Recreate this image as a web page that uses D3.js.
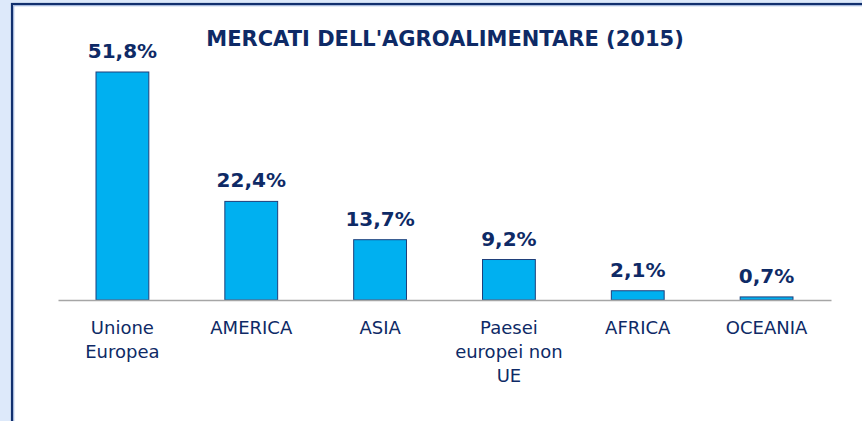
<!DOCTYPE html>
<html>
<head>
<meta charset="utf-8">
<script src="https://cdn.jsdelivr.net/npm/d3@7"></script>
<style>
  html, body { margin: 0; padding: 0; background: #dde9fa; }
  .chart { width: 862px; height: 421px; overflow: hidden; }
  text { font-family: "DejaVu Sans", Verdana, sans-serif; fill: #0e2a66; }
</style>
</head>
<body>
<div class="chart"></div>
<script>
// data
var categories = ["Unione\nEuropea", "AMERICA", "ASIA", "Paesei\neuropei non\nUE", "AFRICA", "OCEANIA"];
var values = [51.8, 22.4, 13.7, 9.2, 2.1, 0.7];
var valueLabels = ["51,8%", "22,4%", "13,7%", "9,2%", "2,1%", "0,7%"];
var title = "MERCATI DELL'AGROALIMENTARE (2015)";

var svgWidth = 862;
var svgHeight = 421;

var margin = {
  top: 72,
  right: 31,
  bottom: 121,
  left: 58
};

var width = svgWidth - margin.left - margin.right;
var height = svgHeight - margin.top - margin.bottom;

var svg = d3.select(".chart")
  .append("svg")
  .attr("width", svgWidth)
  .attr("height", svgHeight);

// white frame with dark border
svg.append("rect")
  .attr("x", 12)
  .attr("y", 4)
  .attr("width", 900)
  .attr("height", 500)
  .attr("fill", "white")
  .attr("stroke", "#12306e")
  .attr("stroke-width", 2.2);

svg.append("rect")
  .attr("x", 13.8)
  .attr("y", 5.8)
  .attr("width", 900)
  .attr("height", 500)
  .attr("fill", "none")
  .attr("stroke", "#7d9bd0")
  .attr("stroke-width", 0.8);

svg.append("text")
  .attr("x", 445)
  .attr("y", 46)
  .attr("text-anchor", "middle")
  .attr("font-size", "21px")
  .attr("font-weight", "bold")
  .text(title);

var chartGroup = svg.append("g")
  .attr("transform", `translate(${margin.left}, ${margin.top})`);

var data = categories.map((c, i) => ({ cat: c, value: values[i], label: valueLabels[i] }));

var xBandScale = d3.scaleBand()
  .domain(categories)
  .range([0, width])
  .paddingInner(0.59)
  .paddingOuter(0.295);

var yLinearScale = d3.scaleLinear()
  .domain([0, 51.8])
  .range([height, 0]);

// bars
chartGroup.selectAll(".bar")
  .data(data)
  .enter()
  .append("rect")
  .attr("class", "bar")
  .attr("x", d => xBandScale(d.cat))
  .attr("y", d => yLinearScale(d.value))
  .attr("width", xBandScale.bandwidth())
  .attr("height", d => height - yLinearScale(d.value))
  .attr("fill", "#00b0f0")
  .attr("stroke", "#1f3f7a")
  .attr("stroke-width", 1);

// value labels
chartGroup.selectAll(".valueText")
  .data(data)
  .enter()
  .append("text")
  .attr("class", "valueText")
  .attr("x", d => xBandScale(d.cat) + xBandScale.bandwidth() / 2)
  .attr("y", d => yLinearScale(d.value) - 14)
  .attr("text-anchor", "middle")
  .attr("font-size", "20px")
  .attr("font-weight", "bold")
  .text(d => d.label);

// x axis
var bottomAxis = d3.axisBottom(xBandScale).tickSize(0).tickPadding(0);

var xAxis = chartGroup.append("g")
  .attr("transform", `translate(0, ${height})`)
  .call(bottomAxis);

xAxis.select(".domain")
  .attr("stroke", "#a6a6a6")
  .attr("stroke-width", 1.5);

xAxis.selectAll(".tick text").remove();

xAxis.selectAll(".tick")
  .append("text")
  .attr("text-anchor", "middle")
  .attr("font-size", "18px")
  .attr("fill", "#0e2a66")
  .selectAll("tspan")
  .data(d => d.split("\n"))
  .enter()
  .append("tspan")
  .attr("x", 0)
  .attr("y", (d, i) => 34 + i * 24)
  .text(d => d);
</script>
</body>
</html>
